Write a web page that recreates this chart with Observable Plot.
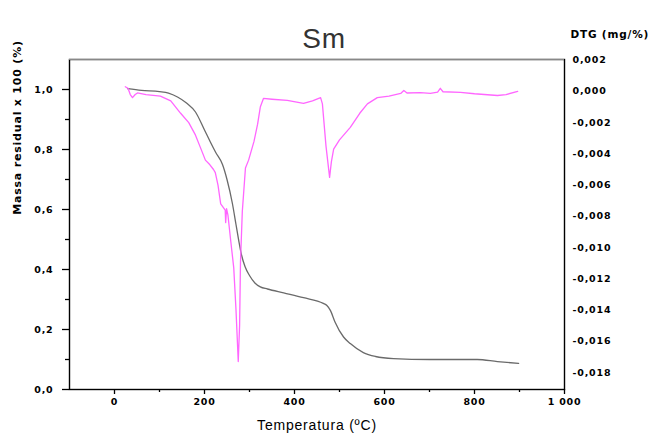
<!DOCTYPE html>
<html>
<head>
<meta charset="utf-8">
<script src="https://cdn.jsdelivr.net/npm/d3@7"></script>
<script src="https://cdn.jsdelivr.net/npm/@observablehq/plot@0.6"></script>
<style>
  html, body { margin: 0; padding: 0; background: #fff; }
</style>
</head>
<body>
<div id="chart"></div>
<script>
// TG curve: temperature (°C) and residual mass fraction
const tgTemp = [29, 60, 100, 120, 140, 160, 180, 200, 213, 225, 240, 250, 262, 270, 276, 282, 290, 300, 312, 324, 340, 376, 420, 464, 472, 480, 490, 509, 524, 553, 580, 620, 700, 806, 851, 898];
const tgMass = [1.003, 0.997, 0.993, 0.988, 0.975, 0.955, 0.925, 0.865, 0.825, 0.79, 0.75, 0.70, 0.62, 0.55, 0.497, 0.45, 0.41, 0.38, 0.355, 0.342, 0.335, 0.322, 0.306, 0.287, 0.28, 0.263, 0.225, 0.175, 0.153, 0.123, 0.11, 0.103, 0.10, 0.10, 0.093, 0.087];

// DTG curve: temperature (°C) and DTG (mg/%)
const dtgTemp = [24, 30, 35, 40, 46, 51, 70, 102, 125, 147, 165, 180, 191, 202, 212, 220, 224, 230, 236, 246, 247, 249, 252, 258, 265, 270, 275, 278, 280, 284, 291, 298, 310, 318, 324, 331, 350, 384, 420, 440, 458, 462, 470, 478, 482, 487, 500, 524, 545, 562, 584, 610, 636, 643, 650, 680, 702, 718, 724, 730, 769, 800, 851, 870, 896];
const dtgVal  = [0.0003, 0.0002, -0.0002, -0.0004, -0.0002, -0.0001, -0.0002, -0.0003, -0.0006, -0.0014, -0.002, -0.0028, -0.0036, -0.0044, -0.0047, -0.005, -0.0052, -0.006, -0.0072, -0.0076, -0.0084, -0.0075, -0.0079, -0.0095, -0.0113, -0.014, -0.0173, -0.015, -0.0109, -0.0077, -0.0049, -0.0044, -0.0032, -0.0021, -0.001, -0.00045, -0.0005, -0.00058, -0.00077, -0.0006, -0.0004, -0.0008, -0.0035, -0.0055, -0.0045, -0.0037, -0.0031, -0.0023, -0.0014, -0.0008, -0.0004, -0.0003, -0.00013, 0.00006, -0.0001, -0.00008, -0.00013, -0.00005, 0.0002, -0.00002, -0.00006, -0.00015, -0.00026, -0.0002, 0.0];

// Axis ticks
const xMajor = [0, 200, 400, 600, 800, 1000];
const xMinor = [100, 300, 500, 700, 900];
const yMajor = [0, 0.2, 0.4, 0.6, 0.8, 1.0];
const yMinor = [0.1, 0.3, 0.5, 0.7, 0.9];
const dtgTicks = [0.002, 0, -0.002, -0.004, -0.006, -0.008, -0.010, -0.012, -0.014, -0.016, -0.018];

const tgData = tgTemp.map((t, i) => ({t, m: tgMass[i]}));
const dtgData = dtgTemp.map((t, i) => ({t, v: dtgVal[i]}));

// map DTG onto the left (mass) scale for the secondary axis
const dtgToLeft = d3.scaleLinear().domain([-0.018, 0.002]).range([0.0567, 1.0977]);

const fmtComma = (d, n) => (Math.abs(d) < 1e-9 ? 0 : d).toFixed(n).replace(".", ",");

const plot = Plot.plot({
  width: 668,
  height: 439,
  marginLeft: 69,
  marginRight: 104,
  marginTop: 59,
  marginBottom: 50,
  style: {fontFamily: "DejaVu Sans", fontSize: "9.5px", fontWeight: "bold", letterSpacing: "0.8px", background: "#fff"},
  x: {domain: [-100, 1000], label: null},
  y: {domain: [0, 1.1], label: null},
  marks: [
    Plot.frame({stroke: "#000", strokeWidth: 1.4}),
    Plot.ruleY([1.1], {stroke: "#888", strokeWidth: 1.2}),
    Plot.axisX({ticks: xMajor, tickSize: 5, tickPadding: 4, tickFormat: d => d3.format("d")(d).replace(/(\d)(\d{3})$/, "$1 $2"), label: null, strokeWidth: 1.3}),
    Plot.axisX({ticks: xMinor, tickSize: 3, tickFormat: () => "", label: null, strokeWidth: 1.3}),
    Plot.axisY({ticks: yMajor, tickSize: 7, tickPadding: 9, tickFormat: d => fmtComma(d, 1), label: null, strokeWidth: 1.3}),
    Plot.axisY({ticks: yMinor, tickSize: 4, tickFormat: () => "", label: null, strokeWidth: 1.3}),
    Plot.axisY({anchor: "right", ticks: dtgTicks.map(dtgToLeft), tickSize: 0, tickPadding: 8,
      tickFormat: d => fmtComma(Math.round(dtgToLeft.invert(d) * 1000) / 1000, 3), label: null}),
    Plot.line(tgData, {x: "t", y: "m", stroke: "#6a6a6a", strokeWidth: 1.3, curve: "monotone-x"}),
    Plot.line(dtgData, {x: "t", y: d => dtgToLeft(d.v), stroke: "#ff66ff", strokeWidth: 1.3}),
    Plot.text(["Sm"], {frameAnchor: "top", dx: 7, dy: -31, fontSize: 28, fontWeight: "normal", fontFamily: "Liberation Sans", fill: "#333", letterSpacing: "3px"}),
    Plot.text(["DTG (mg/%)"], {frameAnchor: "top-right", dx: 6, dy: -29, textAnchor: "start", fontSize: 10.5, fontWeight: "bold", letterSpacing: "1.5px"}),
    Plot.text(["Massa residual x 100 (%)"], {frameAnchor: "left", textAnchor: "middle", rotate: -90, dx: -52, dy: -97, fontSize: 11, fontWeight: "bold", letterSpacing: "0.3px"}),
    Plot.text(["Temperatura (ºC)"], {frameAnchor: "bottom", dx: 0, dy: 40, fontSize: 14, fontWeight: "normal", fontFamily: "Liberation Sans", letterSpacing: "2px"})
  ]
});
document.getElementById("chart").appendChild(plot);
</script>
</body>
</html>
